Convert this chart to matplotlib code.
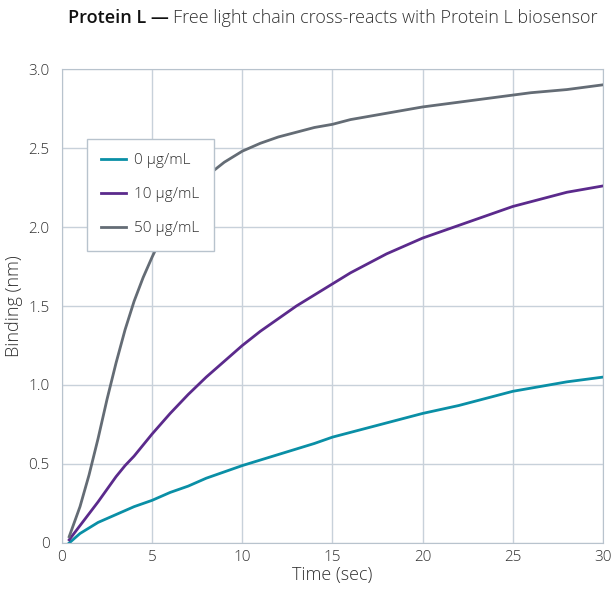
import matplotlib.pyplot as plt

plt.rcParams['font.family'] = ['Open Sans', 'DejaVu Sans']

# binding curves
t_0 = [0.4, 1, 2, 3, 4, 5, 6, 7, 8, 9, 10, 12, 14, 15, 16, 18, 20, 22, 24, 25, 26, 28, 30]
b_0 = [0.0, 0.06, 0.13, 0.18, 0.23, 0.27, 0.32, 0.36, 0.41, 0.45, 0.49, 0.56, 0.63, 0.67, 0.70, 0.76, 0.82, 0.87, 0.93, 0.96, 0.98, 1.02, 1.05]

t_10 = [0.4, 1, 2, 2.5, 3, 3.5, 4, 5, 6, 7, 8, 9, 10, 11, 12, 13, 14, 15, 16, 17, 18, 19, 20, 22, 23, 25, 27, 28, 30]
b_10 = [0.02, 0.11, 0.26, 0.34, 0.42, 0.49, 0.55, 0.69, 0.82, 0.94, 1.05, 1.15, 1.25, 1.34, 1.42, 1.50, 1.57, 1.64, 1.71, 1.77, 1.83, 1.88, 1.93, 2.01, 2.05, 2.13, 2.19, 2.22, 2.26]

t_50 = [0.4, 1, 1.5, 2, 2.5, 3, 3.5, 4, 4.5, 5, 5.5, 6, 6.5, 7, 7.5, 8, 9, 10, 11, 12, 13, 14, 15, 16, 17, 18, 19, 20, 22, 24, 26, 28, 30]
b_50 = [0.04, 0.23, 0.43, 0.66, 0.91, 1.14, 1.35, 1.53, 1.68, 1.81, 1.93, 2.03, 2.12, 2.19, 2.26, 2.32, 2.41, 2.48, 2.53, 2.57, 2.60, 2.63, 2.65, 2.68, 2.70, 2.72, 2.74, 2.76, 2.79, 2.82, 2.85, 2.87, 2.90]

labels = ['0 μg/mL', '10 μg/mL', '50 μg/mL']
colors = ['#0a8fa6', '#5b2a8c', '#646c75']

x_ticks = [0, 5, 10, 15, 20, 25, 30]
y_ticks = [0, 0.5, 1.0, 1.5, 2.0, 2.5, 3.0]
y_tick_labels = ['0', '0.5', '1.0', '1.5', '2.0', '2.5', '3.0']

fig = plt.figure(figsize=(6.16, 5.92), dpi=100)
ax = fig.add_axes([0.1006, 0.0828, 0.8782, 0.8006])

ax.plot(t_0, b_0, color=colors[0], lw=2, label=labels[0])
ax.plot(t_10, b_10, color=colors[1], lw=2, label=labels[1])
ax.plot(t_50, b_50, color=colors[2], lw=2, label=labels[2])

ax.set_xlim(0, 30)
ax.set_ylim(0, 3.0)
ax.set_xticks(x_ticks)
ax.set_yticks(y_ticks)
ax.set_yticklabels(y_tick_labels)
ax.grid(True, color='#c8d1da', lw=1)
ax.set_axisbelow(True)
for s in ax.spines.values():
    s.set_color('#b8c3cd')
ax.tick_params(length=0, labelsize=11, colors='#333333')
ax.tick_params(axis='x', pad=5)
ax.tick_params(axis='y', pad=9)
for lab in ax.get_xticklabels() + ax.get_yticklabels():
    lab.set_fontweight('light')
ax.set_xlabel('Time (sec)', fontsize=13, color='#333333', labelpad=1, fontweight='light')
ax.set_ylabel('Binding (nm)', fontsize=13, color='#333333', labelpad=4, fontweight='light')

leg = ax.legend(loc='upper left', bbox_to_anchor=(0.046, 0.853), fancybox=False,
                edgecolor='#b8c3cd', framealpha=1, labelspacing=1.25,
                handlelength=1.6, handletextpad=0.55, borderpad=0.95, borderaxespad=0,
                prop={'weight': 'light', 'size': 11})
leg.get_frame().set_linewidth(1)
for txt in leg.get_texts():
    txt.set_color('#333333')

# title: bold part then regular part
t1 = fig.text(0.110, 0.969, 'Protein L \u2014 ', fontsize=13, fontweight='semibold', color='#111111', va='center')
fig.canvas.draw()
bb = t1.get_window_extent()
x1 = bb.x1 / fig.bbox.width
fig.text(x1, 0.969, 'Free light chain cross-reacts with Protein L biosensor', fontsize=13,
         color='#333333', va='center', fontweight='light')

plt.savefig('out.png', dpi=100)
